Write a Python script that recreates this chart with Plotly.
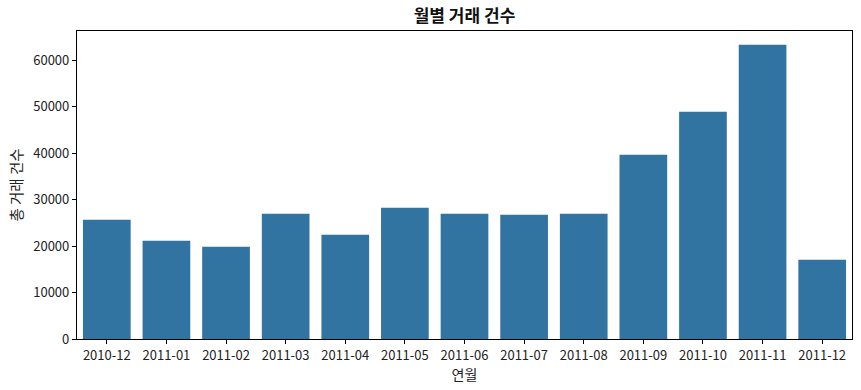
import plotly.graph_objects as go

months = ["2010-12", "2011-01", "2011-02", "2011-03", "2011-04", "2011-05", "2011-06",
          "2011-07", "2011-08", "2011-09", "2011-10", "2011-11", "2011-12"]
counts = [25670, 21120, 19850, 26950, 22430, 28240, 26950,
          26730, 26950, 39630, 48880, 63290, 17050]
y_ticks = [0, 10000, 20000, 30000, 40000, 50000, 60000]

FONT = "Noto Sans CJK KR"
BAR = "#3274a1"

fig = go.Figure(go.Bar(x=months, y=counts, marker=dict(color=BAR, line=dict(width=0)), width=0.8))

axis_common = dict(showline=True, linecolor="black", linewidth=1.2, mirror=True,
                   ticks="outside", ticklen=4, tickcolor="black", tickwidth=1,
                   showgrid=False, zeroline=False, automargin=False,
                   tickfont=dict(family=FONT, size=13, color="#222"))

fig.update_layout(
    width=861, height=390,
    margin=dict(l=77, r=9, t=31, b=51),
    paper_bgcolor="white", plot_bgcolor="white",
    bargap=0.2,
    title=dict(text="<b>월별 거래 건수</b>", x=0.5, xanchor="center", xref="paper",
               y=0.958, yanchor="middle", font=dict(family=FONT, size=17, color="#111")),
    xaxis=dict(**axis_common, type="category", range=[-0.5, 12.5],
               tickvals=months, ticktext=months,
               title=dict(text="연월", font=dict(family=FONT, size=14, color="#222"), standoff=4)),
    yaxis=dict(**axis_common, range=[0, 66240], tickvals=y_ticks,
               ticktext=[str(v) for v in y_ticks],
               title=dict(text="총 거래 건수", font=dict(family=FONT, size=14.5, color="#222"), standoff=7)),
    showlegend=False,
)

fig.write_html("out.html")
